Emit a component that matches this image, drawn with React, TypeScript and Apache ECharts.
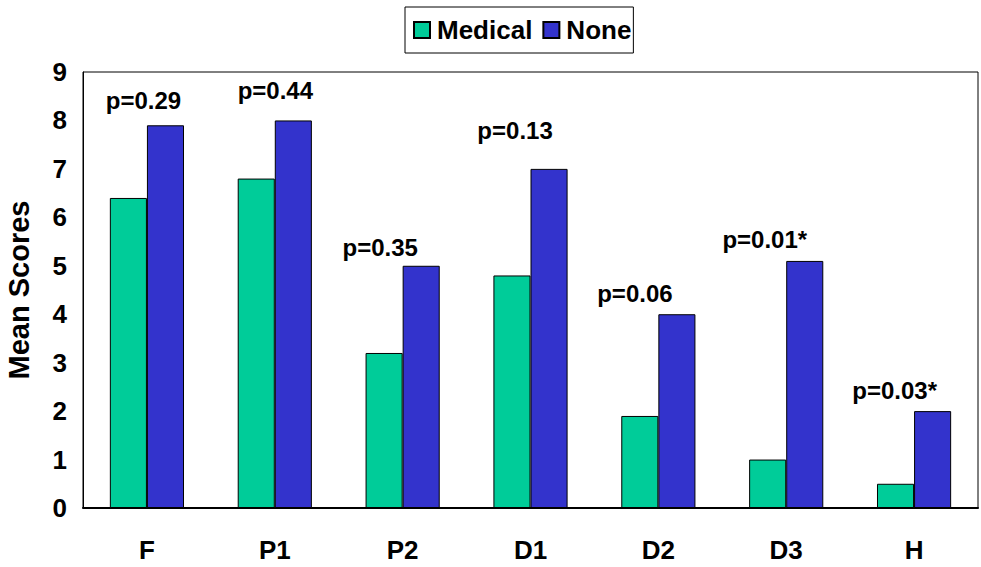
import React, { useEffect, useRef } from "react";
import * as echarts from "echarts";

const categories = ["F", "P1", "P2", "D1", "D2", "D3", "H"];
const medical = [6.4, 6.8, 3.2, 4.8, 1.9, 1.0, 0.5];
const none = [7.9, 8.0, 5.0, 7.0, 4.0, 5.1, 2.0];
const pLabels = ["p=0.29", "p=0.44", "p=0.35", "p=0.13", "p=0.06", "p=0.01*", "p=0.03*"];
const labelOffsets: [number, number][] = [
  [-22, -8],
  [-18, -13],
  [-41, -1],
  [-34, -21],
  [-42, -4],
  [-40, -4],
  [-38, -4],
];

const FONT = "'Liberation Sans', Arial, sans-serif";

export default function App() {
  const ref = useRef<HTMLDivElement>(null);
  useEffect(() => {
    const chart = echarts.init(ref.current!, null, { renderer: "svg" });
    chart.setOption({
      animation: false,
      backgroundColor: "#ffffff",
      legend: {
        top: 7,
        left: 405,
        itemWidth: 16,
        itemHeight: 16,
        itemGap: 10,
        padding: [10, 2, 10, 8],
        borderColor: "#000",
        borderWidth: 1,
        icon: "rect",
        textStyle: { fontFamily: FONT, fontWeight: "bold", fontSize: 26, color: "#000", padding: [0, 0, 0, 2] },
        data: ["Medical", "None"],
      },
      grid: {
        left: 83,
        right: 3,
        top: 72,
        bottom: 59,
        show: true,
        borderColor: "#000",
        borderWidth: 1,
        outerBoundsMode: "none",
        containLabel: false,
      },
      xAxis: {
        type: "category",
        data: categories,
        axisLine: { lineStyle: { color: "#000", width: 2 } },
        axisTick: { show: false },
        axisLabel: { fontFamily: FONT, fontWeight: "bold", fontSize: 26, color: "#000", margin: 29 },
      },
      yAxis: {
        type: "value",
        min: 0,
        max: 9,
        interval: 1,
        name: "Mean Scores",
        nameLocation: "middle",
        nameGap: 50,
        nameTextStyle: { fontFamily: FONT, fontWeight: "bold", fontSize: 29, color: "#000" },
        splitLine: { show: false },
        axisLine: { show: true, lineStyle: { color: "#000" } },
        axisTick: { show: false },
        axisLabel: { fontFamily: FONT, fontWeight: "bold", fontSize: 26, color: "#000", margin: 16 },
      },
      series: [
        {
          name: "Medical",
          type: "bar",
          data: medical,
          barGap: "0%",
          barCategoryGap: "42%",
          itemStyle: { color: "#00CC99", borderColor: "#000", borderWidth: 1 },
        },
        {
          name: "None",
          type: "bar",
          data: none.map((v, i) => ({
            value: v,
            label: {
              show: true,
              position: "top",
              formatter: pLabels[i],
              offset: labelOffsets[i],
              fontFamily: FONT,
              fontWeight: "bold",
              fontSize: 24,
              color: "#000",
            },
          })),
          barGap: "0%",
          barCategoryGap: "42%",
          itemStyle: { color: "#3333CC", borderColor: "#000", borderWidth: 1 },
        },
      ],
    });
    return () => chart.dispose();
  }, []);
  return (
    <div
      ref={ref}
      style={{ position: "fixed", left: 0, top: 0, width: 981, height: 567, background: "#fff" }}
    />
  );
}
